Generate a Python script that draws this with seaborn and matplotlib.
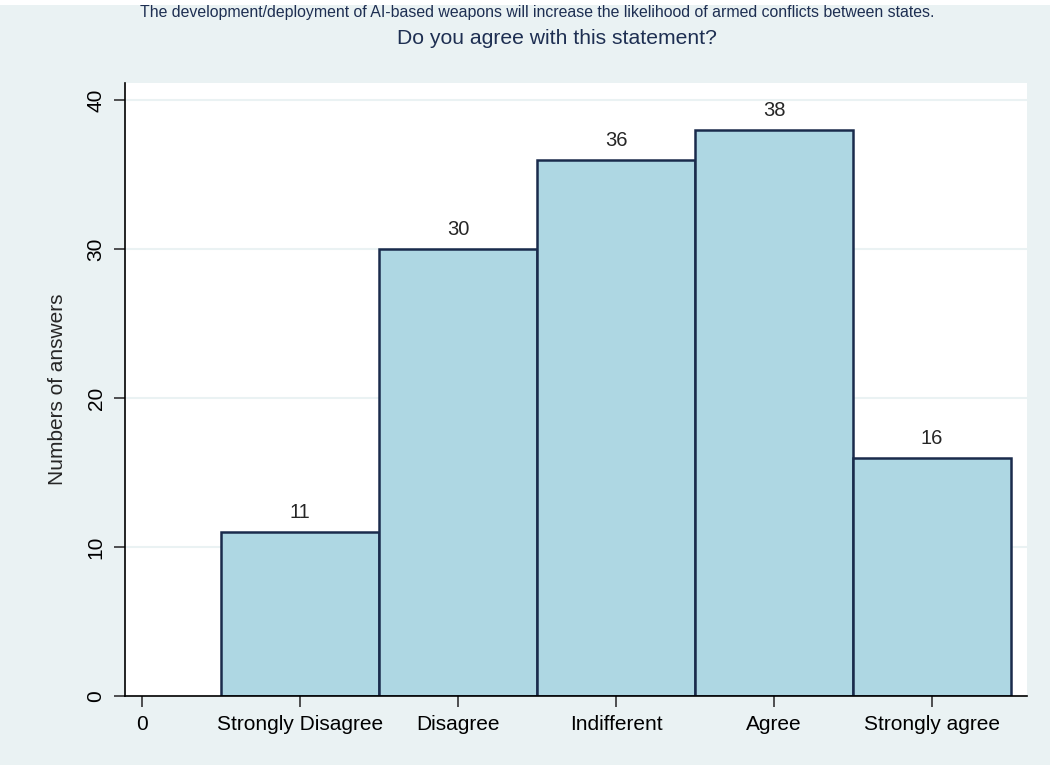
import numpy as np
import pandas as pd
import matplotlib
matplotlib.use("Agg")
import matplotlib.pyplot as plt
import seaborn as sns

categories = ["Strongly Disagree", "Disagree", "Indifferent", "Agree", "Strongly agree"]
positions = [1, 2, 3, 4, 5]
answers = [11, 30, 36, 38, 16]
tick_labels = ["0"] + categories

BG = "#eaf2f3"
BAR = "#aed7e3"
EDGE = "#1a2b4c"
TITLE = "#1e2f52"


def main():
    sns.set_style("white")
    plt.rcParams["font.family"] = ["Liberation Sans", "DejaVu Sans"]

    df = pd.DataFrame({"pos": positions, "n": answers})

    fig = plt.figure(figsize=(10.5, 7.65), dpi=100, facecolor=BG)
    # thin white strip along the top edge
    fig.patches.append(plt.Rectangle((0, 1 - 5 / 765), 1, 5 / 765, transform=fig.transFigure,
                                     facecolor="white", edgecolor="none", zorder=0))
    ax = fig.add_axes([125 / 1050, 1 - 696 / 765, (1027 - 125) / 1050, (696 - 83) / 765])
    ax.set_facecolor("white")

    sns.barplot(data=df, x="pos", y="n", native_scale=True, width=1,
                color=BAR, edgecolor=EDGE, linewidth=1.8, saturation=1, ax=ax)

    ax.set_xlim(-0.108, 5.60)
    ax.set_ylim(0, 41.14)
    ax.set_yticks([0, 10, 20, 30, 40])
    ax.yaxis.grid(True, color=BG, linewidth=1.5)
    ax.set_axisbelow(True)
    ax.set_xticks(range(6))
    ax.set_xticklabels(tick_labels, fontsize=15)
    ax.set_yticklabels(["0", "10", "20", "30", "40"], rotation=90, va="center", fontsize=15)
    ax.tick_params(axis="both", bottom=True, left=True, direction="out", length=8, width=1.2,
                   color="#333333", labelcolor="black")
    ax.tick_params(axis="x", pad=6)
    ax.tick_params(axis="y", pad=6)

    for s in ["top", "right"]:
        ax.spines[s].set_visible(False)
    for s in ["left", "bottom"]:
        ax.spines[s].set_color("black")
        ax.spines[s].set_linewidth(1.2)

    for p, v in zip(positions, answers):
        ax.annotate(str(v), (p, v), xytext=(0, 7), textcoords="offset points",
                    ha="center", va="bottom", fontsize=14.5)

    ax.set_xlabel("")
    ax.set_ylabel("Numbers of answers", fontsize=15, labelpad=14)

    fig.text(537 / 1050, 1 - 13 / 765,
             "The development/deployment of AI-based weapons will increase the likelihood of armed conflicts between states.",
             ha="center", va="center", fontsize=11.4, color=TITLE)
    fig.text(557 / 1050, 1 - 38 / 765, "Do you agree with this statement?",
             ha="center", va="center", fontsize=15.2, color=TITLE)

    fig.savefig("out.png", dpi=100, facecolor=BG)


if __name__ == "__main__":
    main()
